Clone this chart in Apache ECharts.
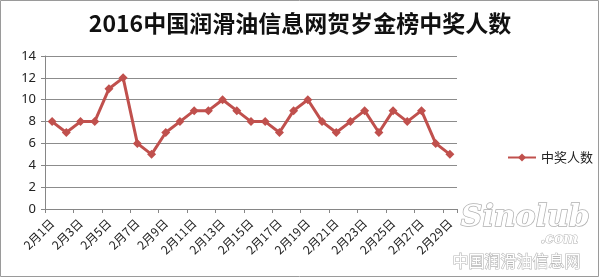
<!DOCTYPE html>
<html><head><meta charset="utf-8">
<script src="https://cdn.jsdelivr.net/npm/echarts@6/dist/echarts.min.js"></script>
<style>html,body{margin:0;padding:0;background:#fff}#c{width:600px;height:279px}</style>
</head><body><div id="c"></div>
<script>
const titleText = '2016中国润滑油信息网贺岁金榜中奖人数';
const seriesName = '中奖人数';
const categories = ['2月1日','2月2日','2月3日','2月4日','2月5日','2月6日','2月7日','2月8日','2月9日','2月10日',
  '2月11日','2月12日','2月13日','2月14日','2月15日','2月16日','2月17日','2月18日','2月19日','2月20日',
  '2月21日','2月22日','2月23日','2月24日','2月25日','2月26日','2月27日','2月28日','2月29日'];
const winners = [8,7,8,8,11,12,6,5,7,8,9,9,10,9,8,8,7,9,10,8,7,8,9,7,9,8,9,6,5];
const yTicks = [0,2,4,6,8,10,12,14];

const chart = echarts.init(document.getElementById('c'));
const cjk = '"Noto Sans CJK SC", "Noto Sans", sans-serif';
chart.setOption({
  animation: false,
  backgroundColor: '#fff',
  title: { text: titleText, left: 'center', top: 7,
    textStyle: { fontSize: 23, fontWeight: 'bold', color: '#111', fontFamily: cjk } },
  legend: { data: [seriesName], orient: 'vertical', left: 502, top: 146, itemWidth: 28, itemHeight: 10,
    itemGap: 4, textStyle: { fontSize: 13, color: '#222', fontFamily: cjk } },
  grid: { left: 45, right: 143, top: 56, bottom: 70, containLabel: false },
  xAxis: {
    type: 'category', data: categories, boundaryGap: true,
    axisLine: { lineStyle: { color: '#868686', width: 1 } },
    axisTick: { show: true, interval: 1, length: 4, lineStyle: { color: '#868686' } },
    axisLabel: { interval: 1, rotate: 45, fontSize: 12, color: '#222', margin: 12, fontFamily: cjk }
  },
  yAxis: {
    type: 'value', min: yTicks[0], max: yTicks[yTicks.length - 1], interval: 2,
    axisLine: { show: true, lineStyle: { color: '#868686' } },
    axisTick: { show: true, length: 4, lineStyle: { color: '#868686' } },
    axisLabel: { fontSize: 13, color: '#222', margin: 9, fontFamily: '"Noto Sans", sans-serif' },
    splitLine: { lineStyle: { color: '#8c8c8c', width: 1 } }
  },
  series: [{
    name: seriesName, type: 'line', data: winners,
    symbol: 'diamond', symbolSize: 9,
    lineStyle: { color: '#C0504D', width: 3 },
    itemStyle: { color: '#C0504D' }
  }],
  graphic: [
    { type: 'rect', shape: { x: 0.5, y: 0.5, width: 598, height: 276 }, style: { fill: 'none', stroke: '#9a9a9a', lineWidth: 1 }, silent: true },
    { type: 'text', left: 460, top: 202, style: { text: 'Sinolub', font: 'italic bold 30px "DejaVu Serif", serif', fill: '#fff', stroke: '#b0b0b0', lineWidth: 1.5 } },
    { type: 'text', left: 540, top: 232, style: { text: '.com', font: 'italic bold 14px "DejaVu Serif", serif', fill: '#fff', stroke: '#b0b0b0', lineWidth: 1 } },
    { type: 'text', left: 452, top: 252, style: { text: '中国润滑油信息网', font: '16px "Noto Sans CJK SC", sans-serif', fill: '#fff', stroke: '#b8b8b8', lineWidth: 1.2 } }
  ]
});
</script></body></html>
